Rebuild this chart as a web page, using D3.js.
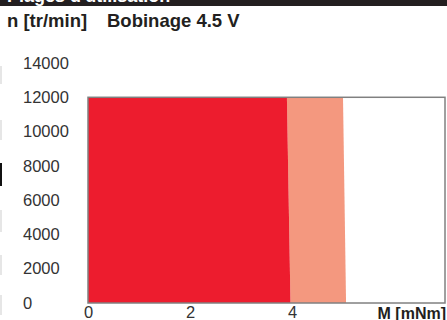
<!DOCTYPE html>
<html>
<head>
<meta charset="utf-8">
<script src="https://cdn.jsdelivr.net/npm/d3@7"></script>
<style>
  html, body { margin: 0; padding: 0; background: #fff; }
  svg { display: block; font-family: "Liberation Sans", Arial, Helvetica, sans-serif; }
</style>
</head>
<body>
<svg id="chart" width="447" height="320"></svg>
<script>
// Operating ranges of the 4.5 V winding: speed n [tr/min] vs torque M [mNm]
const xTicks = [0, 2, 4];
const yTicks = [0, 2000, 4000, 6000, 8000, 10000, 12000, 14000];
const speedMax = 12000;
const torqueMax = 7;
// Boundary of the continuous range (torque at top speed, torque at standstill)
const continuousLimit = [{ n: 12000, m: 3.90 }, { n: 0, m: 3.97 }];
// Boundary of the short-term range
const shortTermLimit = [{ n: 12000, m: 5.00 }, { n: 0, m: 5.06 }];

const svg = d3.select("#chart");
const x = d3.scaleLinear().domain([0, torqueMax]).range([88, 445]);
const y = d3.scaleLinear().domain([0, 14000]).range([303, 63]);

// Header band
svg.append("rect").attr("x", 0).attr("y", 0).attr("width", 447).attr("height", 6).attr("fill", "#231f20");
svg.append("clipPath").attr("id", "hdr").append("rect").attr("x", 0).attr("y", 0).attr("width", 447).attr("height", 6);
svg.append("text").attr("clip-path", "url(#hdr)")
  .attr("x", 7).attr("y", 1.5).attr("fill", "#fff")
  .attr("font-size", 18).attr("font-weight", "bold")
  .text("Plages d'utilisation");

// Small page marks on the left edge
[[66, 84, "#e6e6e6"], [120, 140, "#e6e6e6"], [163, 186, "#111"], [210, 232, "#e6e6e6"], [255, 275, "#e6e6e6"], [295, 315, "#e6e6e6"]]
  .forEach(([a, b, c]) => svg.append("rect").attr("x", 0).attr("y", a).attr("width", 2).attr("height", b - a).attr("fill", c));

// Titles
svg.append("text").attr("x", 7).attr("y", 27).attr("font-size", 18.5).attr("font-weight", "bold").attr("fill", "#231f20").text("n [tr/min]");
svg.append("text").attr("x", 107).attr("y", 27).attr("font-size", 18.5).attr("font-weight", "bold").attr("fill", "#231f20").text("Bobinage 4.5 V");

// Areas
const area = (left, right) => {
  const pts = [
    [x(left[0].m), y(left[0].n)], [x(right[0].m), y(right[0].n)],
    [x(right[1].m), y(right[1].n)], [x(left[1].m), y(left[1].n)]
  ];
  return d3.line()(pts) + "Z";
};
const zero = [{ n: speedMax, m: 0 }, { n: 0, m: 0 }];
svg.append("path").attr("d", area(continuousLimit, shortTermLimit)).attr("fill", "#f4987f");
svg.append("path").attr("d", area(zero, continuousLimit)).attr("fill", "#ed1c2e");

// Frame
svg.append("rect")
  .attr("x", x(0)).attr("y", y(speedMax))
  .attr("width", x(torqueMax) - x(0)).attr("height", y(0) - y(speedMax))
  .attr("fill", "none").attr("stroke", "#808080").attr("stroke-width", 1.5);

// Y axis (labels left-aligned)
const gy = svg.append("g").attr("transform", "translate(23,0)")
  .call(d3.axisLeft(y).tickValues(yTicks).tickSize(0).tickPadding(0).tickFormat(d3.format("d")));
gy.select(".domain").remove();
gy.selectAll("text").attr("text-anchor", "start").attr("x", 0)
  .attr("font-size", 16.5).attr("fill", "#333").attr("font-family", null);

// X axis
const gx = svg.append("g").attr("transform", `translate(0,${y(0)})`)
  .call(d3.axisBottom(x).tickValues(xTicks).tickSize(0).tickPadding(3.5).tickFormat(d3.format("d")));
gx.select(".domain").remove();
gx.selectAll("text").attr("font-size", 16.5).attr("fill", "#333").attr("font-family", null);

svg.append("text").attr("x", 446).attr("y", 319).attr("text-anchor", "end")
  .attr("font-size", 16).attr("font-weight", "bold").attr("fill", "#231f20").text("M [mNm]");
</script>
</body>
</html>
